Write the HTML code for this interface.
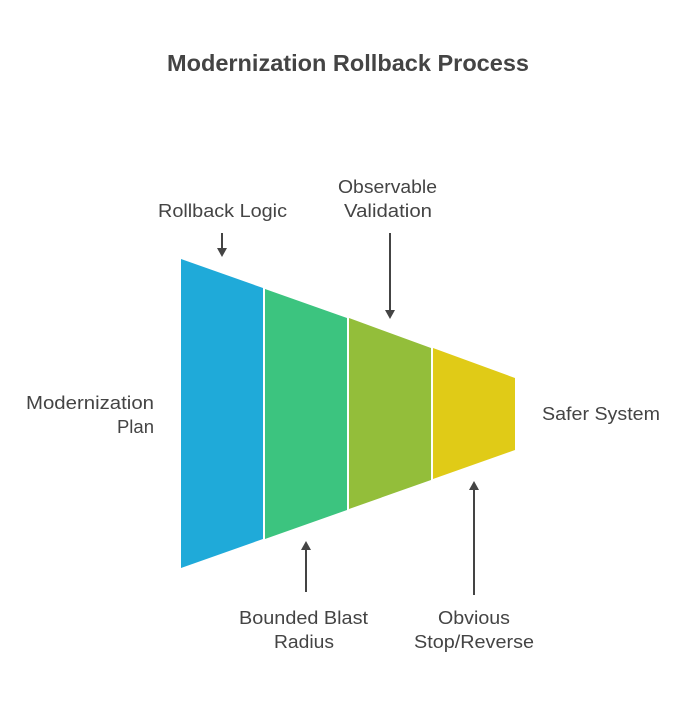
<!DOCTYPE html>
<html><head><meta charset="utf-8"><style>
html,body{margin:0;padding:0;background:#fff;}
body{width:687px;height:703px;overflow:hidden;}
</style></head><body>
<svg width="687" height="703" viewBox="0 0 687 703" xmlns="http://www.w3.org/2000/svg" font-family="Liberation Sans, sans-serif">
<text x="348" y="71" text-anchor="middle" font-size="23" font-weight="bold" fill="#444" textLength="362" lengthAdjust="spacingAndGlyphs">Modernization Rollback Process</text>
<polygon points="181,259 263,288 263,539 181,568" fill="#1FAAD9"/>
<polygon points="265,289 347,318 347,510 265,539" fill="#3CC47F"/>
<polygon points="349,318 431,348 431,480 349,509" fill="#93BE3A"/>
<polygon points="433,348 515,378 515,450 433,479" fill="#E0CB17"/>
<g fill="#444" font-size="18.5">
<text x="158" y="217" textLength="129" lengthAdjust="spacingAndGlyphs">Rollback Logic</text>
<text x="338" y="193" textLength="99" lengthAdjust="spacingAndGlyphs">Observable</text>
<text x="344" y="217" textLength="88" lengthAdjust="spacingAndGlyphs">Validation</text>
<text x="26" y="409" textLength="128" lengthAdjust="spacingAndGlyphs">Modernization</text>
<text x="154" y="433" text-anchor="end">Plan</text>
<text x="542" y="420" textLength="118" lengthAdjust="spacingAndGlyphs">Safer System</text>
<text x="239" y="624" textLength="129" lengthAdjust="spacingAndGlyphs">Bounded Blast</text>
<text x="274" y="648" textLength="60" lengthAdjust="spacingAndGlyphs">Radius</text>
<text x="438" y="624" textLength="72" lengthAdjust="spacingAndGlyphs">Obvious</text>
<text x="414" y="648" textLength="120" lengthAdjust="spacingAndGlyphs">Stop/Reverse</text>
</g>
<g stroke="#444" stroke-width="2">
<line x1="222" y1="233" x2="222" y2="250"/>
<line x1="390" y1="233" x2="390" y2="313"/>
<line x1="306" y1="548" x2="306" y2="592"/>
<line x1="474" y1="488" x2="474" y2="595"/>
</g>
<g fill="#444">
<polygon points="217,248 227,248 222,257"/>
<polygon points="385,310 395,310 390,319"/>
<polygon points="301,550 311,550 306,541"/>
<polygon points="469,490 479,490 474,481"/>
</g>
</svg>
</body></html>
